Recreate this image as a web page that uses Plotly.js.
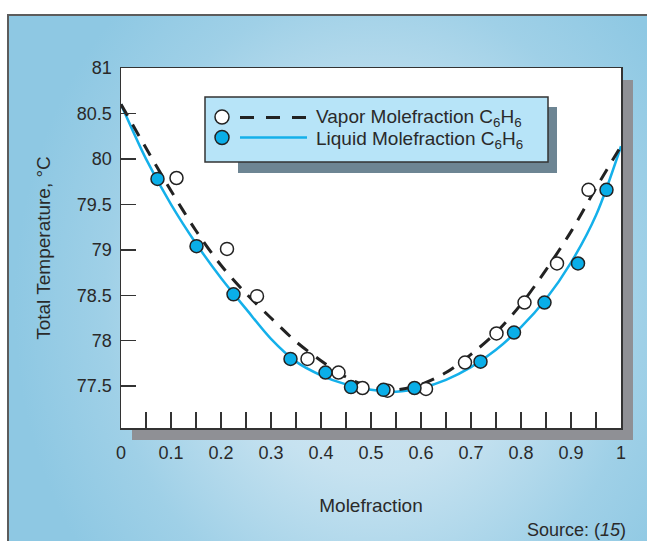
<!DOCTYPE html>
<html><head><meta charset="utf-8">
<script src="https://cdn.plot.ly/plotly-3.0.1.min.js"></script>
<style>
html,body{margin:0;padding:0;background:#fff;}
#wrap{position:relative;width:647px;height:541px;overflow:hidden;}
#bgframe{position:absolute;left:7px;top:14px;width:700px;height:600px;
  border-top:2px solid #5c5c5c;border-left:2px solid #5c5c5c;
  background:radial-gradient(ellipse 360px 420px at 365px 290px,#d9ebf5 0%,#c6e2f0 40%,#9fd0e7 75%,#8ec8e3 100%);}
#chart{position:absolute;left:0;top:0;width:647px;height:541px;}
</style></head>
<body>
<div id="wrap"><div id="bgframe"></div><div id="chart"></div></div>
<script>
// ---- data ----
const liquidX = [0.073,0.151,0.225,0.339,0.409,0.460,0.525,0.587,0.719,0.786,0.847,0.914,0.971];
const liquidY = [79.78,79.04,78.51,77.80,77.65,77.49,77.46,77.48,77.77,78.09,78.42,78.85,79.66];
const vaporX  = [0.111,0.212,0.272,0.373,0.435,0.483,0.533,0.610,0.688,0.751,0.807,0.872,0.935];
const vaporY  = [79.79,79.01,78.49,77.80,77.65,77.48,77.45,77.47,77.76,78.08,78.42,78.85,79.66];
const fitX = [0,0.05,0.1,0.15,0.2,0.25,0.3,0.35,0.4,0.45,0.5,0.55,0.6,0.65,0.7,0.75,0.8,0.85,0.9,0.95,1];
const liquidFitY = [80.60,80.00,79.50,79.07,78.69,78.35,78.02,77.77,77.62,77.52,77.46,77.44,77.48,77.57,77.71,77.90,78.15,78.46,78.86,79.38,80.14];
const vaporFitY  = [80.60,80.12,79.65,79.21,78.83,78.52,78.25,77.99,77.78,77.60,77.49,77.46,77.52,77.65,77.85,78.09,78.40,78.78,79.20,79.68,80.14];
const xTickVals = [0,0.1,0.2,0.3,0.4,0.5,0.6,0.7,0.8,0.9,1];
const xTickText = ['0','0.1','0.2','0.3','0.4','0.5','0.6','0.7','0.8','0.9','1'];
const yTickVals = [77.5,78,78.5,79,79.5,80,80.5,81];
const yTickText = ['77.5','78','78.5','79','79.5','80','80.5','81'];
const seriesNames = ['Vapor Molefraction C<sub>6</sub>H<sub>6</sub>','Liquid Molefraction C<sub>6</sub>H<sub>6</sub>'];
const xTitle = 'Molefraction';
const yTitle = 'Total Temperature, °C';
const sourceText = 'Source: (<i>15</i>)';

// ---- styles ----
const REG = "'Liberation Sans',Arial,sans-serif";
const INK = '#2a2a2a';
const BLUE = '#0aaee8';
const LINEBLUE = '#14b0ea';

// geometry helpers (pixel -> paper) for decorative frame items
const L=121, T=68, W=500, H=360;
const px = v => (v-L)/W, py = v => (T+H-v)/H;

const traces = [
  {x:fitX, y:liquidFitY, mode:'lines', line:{color:LINEBLUE, width:2.5, shape:'spline', smoothing:0.9}, hoverinfo:'skip'},
  {x:fitX, y:vaporFitY, mode:'lines', line:{color:'#222', width:3, dash:'13px,10px', shape:'spline', smoothing:0.9}, hoverinfo:'skip'},
  {x:vaporX, y:vaporY, mode:'markers', name:seriesNames[0], marker:{size:13, color:'#ffffff', line:{color:'#222', width:1.5}}},
  {x:liquidX, y:liquidY, mode:'markers', name:seriesNames[1], marker:{size:13, color:BLUE, line:{color:'#222', width:1.5}}}
];

const axisCommon = {showline:true, linecolor:'#333', linewidth:1.5, mirror:true, showgrid:false, zeroline:false,
  ticks:'inside', tickcolor:'#333', tickwidth:1.5, tickfont:{family:REG, size:18, color:INK}, tickmode:'array'};

const layout = {
  width:647, height:541,
  margin:{l:L, r:647-L-W, t:T, b:541-T-H},
  paper_bgcolor:'rgba(0,0,0,0)', plot_bgcolor:'rgba(0,0,0,0)',
  showlegend:false,
  font:{family:REG, size:19, color:INK},
  xaxis:Object.assign({}, axisCommon, {range:[0,1], tickvals:xTickVals, ticktext:xTickText, ticklen:16,
    minor:{dtick:0.05, ticks:'inside', ticklen:16, tickwidth:1.5, tickcolor:'#333'},
    ticklabelstandoff:8,
    title:{text:xTitle, standoff:36, font:{family:REG, size:19, color:INK}}}),
  yaxis:Object.assign({}, axisCommon, {range:[77.04,81], tickvals:yTickVals, ticktext:yTickText, ticklen:15,
    ticklabelstandoff:4,
    title:{text:yTitle, standoff:21, font:{family:REG, size:19, color:INK}}}),
  shapes:[
    {type:'rect', xref:'paper', yref:'paper', layer:'below', x0:px(132), x1:px(633), y0:py(440), y1:py(80), fillcolor:'#8f9095', line:{width:0}},
    {type:'rect', xref:'paper', yref:'paper', layer:'below', x0:0, x1:1, y0:0, y1:1, fillcolor:'#ffffff', line:{width:0}},
    {type:'rect', xref:'paper', yref:'paper', layer:'above', x0:px(238), x1:px(557), y0:py(173), y1:py(107), fillcolor:'#6d8593', line:{width:0}},
    {type:'rect', xref:'paper', yref:'paper', layer:'above', x0:px(205), x1:px(548), y0:py(162), y1:py(97), fillcolor:'#b7e4f8', line:{color:'#333', width:1.5}},
    {type:'circle', xref:'paper', yref:'paper', layer:'above', xsizemode:'pixel', ysizemode:'pixel', xanchor:px(222), yanchor:py(117), x0:-7, x1:7, y0:-7, y1:7, fillcolor:'#ffffff', line:{color:'#222', width:1.5}},
    {type:'line', xref:'paper', yref:'paper', layer:'above', x0:px(240), x1:px(307), y0:py(117.5), y1:py(117.5), line:{color:'#222', width:3, dash:'14px,12px'}},
    {type:'circle', xref:'paper', yref:'paper', layer:'above', xsizemode:'pixel', ysizemode:'pixel', xanchor:px(222), yanchor:py(137.5), x0:-7, x1:7, y0:-7, y1:7, fillcolor:BLUE, line:{color:'#222', width:1.5}},
    {type:'line', xref:'paper', yref:'paper', layer:'above', x0:px(240), x1:px(307), y0:py(137.5), y1:py(137.5), line:{color:LINEBLUE, width:2.5}}
  ],
  annotations:[
    {xref:'paper', yref:'paper', x:px(314), y:py(118), xanchor:'left', yanchor:'middle', showarrow:false, text:seriesNames[0], font:{family:REG, size:19, color:INK}},
    {xref:'paper', yref:'paper', x:px(314), y:py(140), xanchor:'left', yanchor:'middle', showarrow:false, text:seriesNames[1], font:{family:REG, size:19, color:INK}},
    {xref:'paper', yref:'paper', x:px(628), y:py(530), xanchor:'right', yanchor:'middle', showarrow:false, text:sourceText, font:{family:REG, size:18, color:INK}}
  ]
};

Plotly.newPlot('chart', traces, layout, {displayModeBar:false, staticPlot:true});
</script>
</body></html>
